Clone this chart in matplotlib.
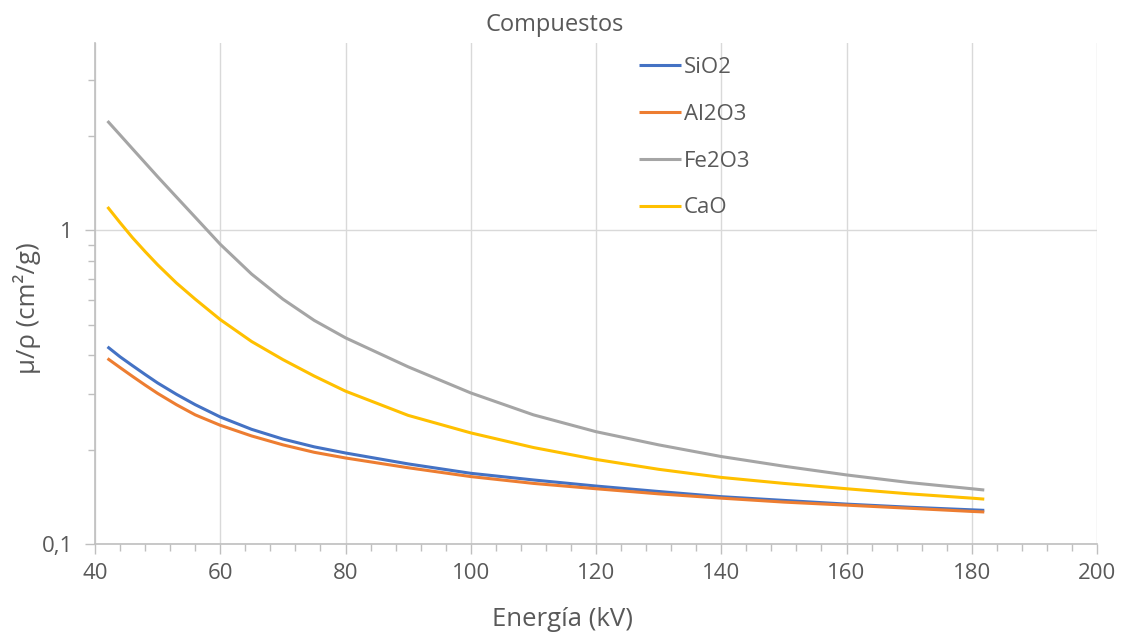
import matplotlib
matplotlib.use('Agg')
import matplotlib.pyplot as plt
from matplotlib.ticker import FixedLocator, MultipleLocator, NullFormatter

plt.rcParams['font.family'] = ['Open Sans', 'DejaVu Sans']

# energia (kV)
energia = [42, 44, 46, 48, 50, 53, 56, 60, 65, 70, 75, 80, 90, 100, 110, 120, 130, 140, 150,
           160, 170, 180, 182]

# mu/rho (cm2/g)
sio2 = [0.425, 0.395, 0.370, 0.347, 0.326, 0.300, 0.278, 0.254, 0.232, 0.216, 0.204, 0.195,
        0.180, 0.168, 0.160, 0.153, 0.147, 0.1415, 0.1377, 0.134, 0.131, 0.1285, 0.128]
al2o3 = [0.390, 0.365, 0.342, 0.321, 0.302, 0.278, 0.258, 0.239, 0.221, 0.207, 0.196, 0.188,
         0.175, 0.164, 0.156, 0.150, 0.1445, 0.140, 0.136, 0.133, 0.130, 0.127, 0.1265]
fe2o3 = [2.228, 2.012, 1.816, 1.640, 1.481, 1.276, 1.100, 0.902, 0.725, 0.603, 0.516, 0.454,
         0.367, 0.303, 0.258, 0.228, 0.207, 0.190, 0.177, 0.166, 0.157, 0.150, 0.1486]
cao = [1.186, 1.057, 0.946, 0.855, 0.776, 0.679, 0.603, 0.519, 0.442, 0.387, 0.343, 0.307,
       0.257, 0.226, 0.203, 0.186, 0.173, 0.163, 0.156, 0.150, 0.1445, 0.140, 0.139]

series = [('SiO2', sio2, '#4472C4'), ('Al2O3', al2o3, '#ED7D31'),
          ('Fe2O3', fe2o3, '#A5A5A5'), ('CaO', cao, '#FFC000')]

gris_txt = '#595959'
gris_eje = '#BFBFBF'
gris_grid = '#D9D9D9'

fig = plt.figure(figsize=(11.25, 6.35), dpi=100)
ax = fig.add_axes([95 / 1125, 91 / 635, 1002 / 1125, 501 / 635])

for nombre, vals, color in series:
    ax.plot(energia, vals, color=color, lw=2.2, label=nombre, solid_capstyle='butt')

ax.set_yscale('log')
ax.set_xlim(40, 200)
ax.set_ylim(0.1, 3.95)

ax.xaxis.set_major_locator(MultipleLocator(20))
ax.xaxis.set_minor_locator(MultipleLocator(4))
ax.yaxis.set_major_locator(FixedLocator([0.1, 1]))
ax.yaxis.set_minor_locator(FixedLocator([0.2, 0.3, 0.4, 0.5, 0.6, 0.7, 0.8, 0.9, 2, 3]))
ax.yaxis.set_minor_formatter(NullFormatter())
ax.set_yticklabels(['0,1', '1'])

ax.grid(True, which='major', color=gris_grid, lw=1)
ax.set_axisbelow(True)

for lado in ['top', 'right']:
    ax.spines[lado].set_visible(False)
for lado in ['left', 'bottom']:
    ax.spines[lado].set_color(gris_eje)
    ax.spines[lado].set_linewidth(1.2)

ax.tick_params(which='both', direction='out', color=gris_eje, width=1, labelsize=16,
               labelcolor=gris_txt)
ax.tick_params(which='major', length=7)
ax.tick_params(which='minor', length=5)
ax.tick_params(axis='x', pad=7)
ax.tick_params(axis='y', pad=9)

fig.text(555 / 1125, 1 - 25 / 635, 'Compuestos', ha='center', va='center',
         fontsize=17, color=gris_txt)
fig.text(563 / 1125, 1 - 620 / 635, 'Energía (kV)', ha='center', va='center',
         fontsize=18.5, color=gris_txt)
fig.text(27 / 1125, 1 - 308 / 635, 'μ/ρ (cm²/g)', ha='center', va='center',
         rotation=90, fontsize=18.5, color=gris_txt)

leg = ax.legend(loc='upper left', bbox_to_anchor=(628 / 1125, 1 - 46 / 635),
                bbox_transform=fig.transFigure, frameon=False, fontsize=16, borderpad=0,
                handlelength=1.9, handletextpad=0.1, labelspacing=1.16)
for t in leg.get_texts():
    t.set_color(gris_txt)

fig.savefig('out.png', dpi=100)
